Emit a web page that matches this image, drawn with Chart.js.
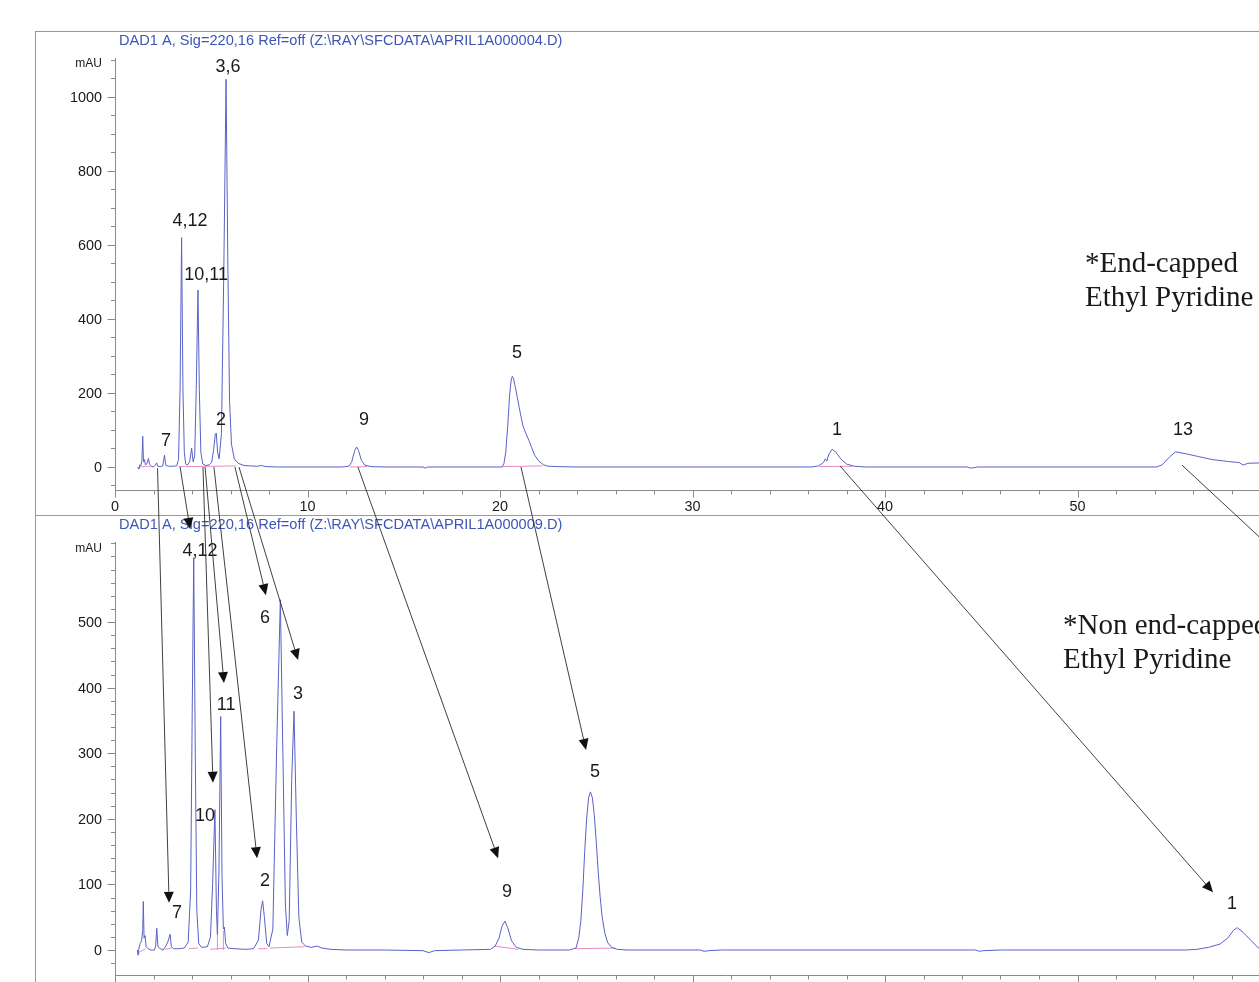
<!DOCTYPE html>
<html>
<head>
<meta charset="utf-8">
<title>SFC chromatograms - Ethyl Pyridine columns</title>
<script src="https://cdn.jsdelivr.net/npm/chart.js@4.4.1/dist/chart.umd.min.js"></script>
<style>
  html, body { margin: 0; padding: 0; background: #fff; overflow: hidden; }
  #page { position: relative; width: 1259px; height: 982px; overflow: hidden; }
  .frame { position: absolute; left: 35px; top: 31px; width: 1400px; height: 1000px;
           border-top: 1px solid #9a9a9a; border-left: 1px solid #9a9a9a; }
  .sep { position: absolute; left: 35px; top: 515px; width: 1400px; height: 0; border-top: 1px solid #9a9a9a; }
  #topChart { position: absolute; left: 0; top: 0; }
  #bottomChart { position: absolute; left: 0; top: 515px; }
  #arrows { position: absolute; left: 0; top: 0; pointer-events: none; }
  .note { position: absolute; font-family: "Liberation Serif", "Times New Roman", serif; font-size: 29px;
          line-height: 34px; color: #1a1a1a; white-space: nowrap; }
</style>
</head>
<body>
<div id="page">
  <div class="frame"></div>
  <div class="sep"></div>
  <canvas id="topChart" width="1340" height="515"></canvas>
  <canvas id="bottomChart" width="1340" height="500"></canvas>
  <canvas id="arrows" width="1259" height="982"></canvas>
  <div class="note" style="left:1085px; top:245px;">*End-capped<br>Ethyl Pyridine</div>
  <div class="note" style="left:1063px; top:607px;">*Non end-capped<br>Ethyl Pyridine</div>
</div>
<script>
// ---- Signal traces: [retention time (min), absorbance (mAU)] ----
const endCappedTrace = [
  [1.18,0],[1.24,-6],[1.29,6],[1.34,3],[1.40,18],[1.44,83],[1.48,14],[1.53,20],[1.58,6],[1.66,9],
  [1.74,23],[1.80,6],[1.88,2],[1.98,0],[2.08,4],[2.16,11],[2.22,2],[2.35,1],[2.48,3],[2.57,32],
  [2.64,4],[2.80,2],[3.00,2],[3.20,3],[3.30,20],[3.38,210],[3.46,620],[3.53,210],[3.60,40],[3.67,8],
  [3.76,5],[3.88,14],[3.98,51],[4.06,14],[4.14,30],[4.22,210],[4.31,478],[4.38,210],[4.46,40],[4.56,8],
  [4.72,4],[4.90,6],[5.02,12],[5.12,45],[5.21,88],[5.26,92],[5.33,40],[5.41,22],[5.53,90],[5.65,520],
  [5.77,1048],[5.86,560],[5.95,180],[6.05,62],[6.20,22],[6.40,10],[6.70,4],[7.00,3],[7.40,2],[7.60,4],
  [7.85,1],[8.50,0],[10.5,0],[11.8,0],[12.15,2],[12.30,14],[12.45,44],[12.55,54],[12.65,45],[12.80,18],
  [12.98,5],[13.30,1],[14.0,0],[16.0,0],[16.1,-3],[16.25,0],[18.0,0],[20.05,0],[20.12,1],[20.20,8],
  [20.30,40],[20.40,110],[20.50,195],[20.58,235],[20.64,245],[20.70,240],[20.80,215],[20.90,188],[21.00,160],[21.10,134],
  [21.20,110],[21.35,90],[21.50,72],[21.65,52],[21.80,32],[22.00,17],[22.25,6],[22.50,2],[23.0,1],[24.0,0],
  [30.0,0],[36.2,0],[36.55,3],[36.80,12],[36.90,22],[36.98,16],[37.08,34],[37.25,48],[37.45,40],[37.70,22],
  [38.00,8],[38.40,2],[39.0,0],[44.3,0],[44.42,-3],[44.6,-2],[44.8,0],[54.1,0],[54.4,6],[54.8,28],
  [55.1,41],[55.6,36],[56.3,28],[57.0,20],[57.8,15],[58.4,12],[58.6,5],[58.85,10],[59.5,11],[60.3,9],
  [61.0,8]
];

const nonEndCappedTrace = [
  [1.16,0],[1.20,-8],[1.25,4],[1.31,10],[1.38,14],[1.44,30],[1.47,74],[1.51,18],[1.56,22],[1.62,5],
  [1.72,2],[1.85,0],[2.05,0],[2.11,6],[2.17,33],[2.23,5],[2.35,2],[2.50,0],[2.64,6],[2.74,12],
  [2.86,24],[2.93,5],[3.05,2],[3.30,2],[3.60,3],[3.80,12],[3.93,90],[4.01,360],[4.09,598],[4.17,300],
  [4.25,60],[4.35,10],[4.50,4],[4.80,5],[4.96,20],[5.07,100],[5.19,214],[5.27,60],[5.32,24],[5.40,120],
  [5.49,356],[5.56,110],[5.63,32],[5.68,35],[5.75,10],[5.86,3],[6.20,2],[6.80,1],[7.20,2],[7.45,15],
  [7.58,60],[7.67,75],[7.76,50],[7.88,10],[8.00,5],[8.20,32],[8.40,310],[8.59,534],[8.72,300],[8.85,70],
  [8.95,22],[9.05,45],[9.18,260],[9.30,364],[9.42,200],[9.55,50],[9.70,12],[9.90,6],[10.20,4],[10.50,6],
  [10.75,3],[11.2,1],[12.0,0],[14.0,0],[16.0,-1],[16.3,-4],[16.6,-1],[18.0,0],[19.5,1],[19.75,6],
  [19.95,18],[20.10,36],[20.26,44],[20.40,34],[20.60,14],[20.85,4],[21.2,1],[22.0,0],[23.6,0],[23.95,3],
  [24.10,20],[24.20,45],[24.30,90],[24.40,150],[24.50,200],[24.60,232],[24.70,241],[24.80,232],[24.90,205],[25.00,165],
  [25.10,120],[25.20,82],[25.30,52],[25.45,25],[25.60,11],[25.80,4],[26.1,1],[26.6,0],[30.4,0],[30.6,-2],
  [30.85,-1],[31.5,0],[44.7,0],[44.9,-2],[45.1,-1],[46.0,0],[55.6,0],[56.2,1],[56.8,4],[57.4,9],
  [57.8,18],[58.1,30],[58.3,34],[58.6,27],[59.0,15],[59.4,3],[59.9,-1],[61.0,0]
];

// ---- Integration baselines (each inner list is one drawn segment) ----
const endCappedBaselines = [
  [[1.22,-1],[1.60,2],[1.85,0]],
  [[3.30,1],[3.66,2]],
  [[3.68,1],[6.30,3]],
  [[12.20,0],[13.10,1]],
  [[20.10,1],[22.20,3]],
  [[36.60,1],[38.30,2]]
];
const nonEndCappedBaselines = [
  [[1.22,-4],[1.60,2]],
  [[2.60,1],[2.95,3]],
  [[3.85,2],[4.30,3]],
  [[4.95,1],[5.75,3]],
  [[5.32,0],[5.32,32]],
  [[5.63,0],[5.63,30]],
  [[7.45,2],[7.90,2]],
  [[8.05,3],[9.85,5]],
  [[19.70,6],[20.95,1]],
  [[23.90,2],[26.00,3]]
];

// ---- Peak identifications: name, label time (min), label height (mAU) ----
const endCappedPeakNames = ['3,6', '4,12', '10,11', '2', '7', '9', '5', '1', '13'];
const endCappedPeakT     = [5.87, 3.90, 4.73, 5.51, 2.65, 12.93, 20.88, 37.51, 55.48];
const endCappedPeakV     = [1086, 668, 522, 132, 73, 132, 311, 103, 103];

const nonEndCappedPeakNames = ['4,12', '6', '11', '3', '10', '2', '7', '9', '5', '1'];
const nonEndCappedPeakT     = [4.42, 7.79, 5.77, 9.51, 4.68, 7.79, 3.22, 20.36, 24.94, 58.03];
const nonEndCappedPeakV     = [611, 509, 375, 393, 207, 107, 58, 91, 274, 73];

// ---- Elution-order arrows: peak on the end-capped run -> same compound on the non end-capped run ----
const arrowFrom = [[2.21,-3],[3.38,0],[4.57,0],[4.68,0],[5.14,0],[6.23,0],[6.44,0],[12.62,0],[21.09,0],[37.66,3],[55.43,5]];
const arrowTo   = [[2.81,72],[3.90,642],[5.09,255],[5.66,407],[7.38,140],[7.84,541],[9.51,442],[19.90,140],[24.47,305],[57.04,88],[63.1,530]];

// ---- Axis ticks and labels ----
const timeLabelValues = [0, 10, 20, 30, 40, 50, 60];
const timeLabelText   = ['0', '10', '20', '30', '40', '50', 'min'];
const endCappedYLabels    = [0, 200, 400, 600, 800, 1000];
const nonEndCappedYLabels = [0, 100, 200, 300, 400, 500];

const titleEndCapped    = 'DAD1 A, Sig=220,16 Ref=off (Z:\\RAY\\SFCDATA\\APRIL1A000004.D)';
const titleNonEndCapped = 'DAD1 A, Sig=220,16 Ref=off (Z:\\RAY\\SFCDATA\\APRIL1A000009.D)';

const FONT = "'Liberation Sans', Arial, Helvetica, sans-serif";
const TRACE_COLOR = '#5a62c6';
const BASELINE_COLOR = '#e88cc2';

function steps(from, to, step) {
  const out = [];
  for (let v = from; v <= to + 1e-9; v += step) out.push(Math.round(v * 1000) / 1000);
  return out;
}

function toPoints(pairs) { return pairs.map(([x, y]) => ({ x, y })); }
function segmentsToPoints(segs) {
  const out = [];
  segs.forEach((s, i) => {
    if (i > 0) out.push({ x: s[0][0], y: null });
    s.forEach(([x, y]) => out.push({ x, y }));
  });
  return out;
}

// Axis lines, minor/major tick marks, unit, signal title and peak names
function decorPlugin(spec) {
  return {
    id: 'chromDecor',
    afterDraw(chart) {
      const { ctx, chartArea: a, scales: { x, y } } = chart;
      ctx.save();
      ctx.strokeStyle = '#8a8a8a';
      ctx.lineWidth = 1;
      const lx = Math.round(a.left) + 0.5;
      const by = Math.round(a.bottom) + 0.5;
      ctx.beginPath();
      ctx.moveTo(lx, Math.round(a.top));
      ctx.lineTo(lx, by);
      ctx.lineTo(chart.width, by);
      spec.yTicks.forEach(v => {
        const py = Math.round(y.getPixelForValue(v)) + 0.5;
        const len = spec.yMajor.includes(v) ? 8 : 4.5;
        ctx.moveTo(lx - len, py); ctx.lineTo(lx, py);
      });
      spec.xTicks.forEach(v => {
        const px = Math.round(x.getPixelForValue(v)) + 0.5;
        const len = spec.xMajor.includes(v) ? 7 : 4;
        ctx.moveTo(px, by); ctx.lineTo(px, by + len);
      });
      ctx.stroke();

      ctx.fillStyle = '#1a1a1a';
      ctx.font = `12px ${FONT}`;
      ctx.textAlign = 'right';
      ctx.textBaseline = 'middle';
      ctx.fillText('mAU', a.left - 13, a.top + spec.unitDy);

      ctx.fillStyle = '#3d56b6';
      ctx.font = `14.6px ${FONT}`;
      ctx.textAlign = 'left';
      ctx.fillText(spec.title, a.left + 4, a.top + spec.titleDy);

      ctx.fillStyle = '#1a1a1a';
      ctx.font = `18px ${FONT}`;
      ctx.textAlign = 'center';
      spec.names.forEach((n, i) => {
        ctx.fillText(n, x.getPixelForValue(spec.t[i]), y.getPixelForValue(spec.v[i]) + 1.5);
      });
      ctx.restore();
    }
  };
}

function makeChromatogram(canvasId, cfg) {
  return new Chart(document.getElementById(canvasId), {
    type: 'line',
    data: {
      datasets: [
        { data: toPoints(cfg.trace), borderColor: TRACE_COLOR, borderWidth: 1, pointRadius: 0, tension: 0, fill: false, order: 1 },
        { data: segmentsToPoints(cfg.baselines), borderColor: BASELINE_COLOR, borderWidth: 1, pointRadius: 0, tension: 0, fill: false, spanGaps: false, order: 2 }
      ]
    },
    options: {
      responsive: false,
      animation: false,
      devicePixelRatio: 1,
      events: [],
      layout: { padding: { left: 0, top: cfg.padTop, right: 50.75, bottom: 0 } },
      plugins: { legend: { display: false }, tooltip: { enabled: false }, title: { display: false } },
      scales: {
        x: {
          type: 'linear', min: 0, max: 61,
          afterBuildTicks: s => { s.ticks = timeLabelValues.map(v => ({ value: v })); },
          afterFit: s => { s.height = cfg.xAxisHeight; },
          grid: { display: false, drawTicks: false },
          border: { display: false },
          ticks: {
            autoSkip: false, maxRotation: 0, padding: 8, color: '#1a1a1a',
            font: { family: FONT, size: 14.4 },
            callback: v => timeLabelText[timeLabelValues.indexOf(v)]
          }
        },
        y: {
          type: 'linear', min: cfg.yMin, max: cfg.yMax,
          afterBuildTicks: s => { s.ticks = cfg.yLabels.map(v => ({ value: v })); },
          afterFit: s => { s.width = 115; },
          grid: { display: false, drawTicks: false },
          border: { display: false },
          ticks: {
            padding: 13, labelOffset: 1, color: '#1a1a1a',
            font: { family: FONT, size: 14.4 },
            callback: v => String(v)
          }
        }
      }
    },
    plugins: [decorPlugin({
      yTicks: cfg.yTicks, yMajor: cfg.yLabels,
      xTicks: steps(0, 60, 2), xMajor: timeLabelValues,
      unitDy: cfg.unitDy, title: cfg.title, titleDy: cfg.titleDy,
      names: cfg.names, t: cfg.peakT, v: cfg.peakV
    })]
  });
}

const topChart = makeChromatogram('topChart', {
  trace: endCappedTrace, baselines: endCappedBaselines,
  yMin: -62.2, yMax: 1105.4, yLabels: endCappedYLabels, yTicks: steps(-50, 1100, 50),
  padTop: 58, xAxisHeight: 25, unitDy: 6, title: titleEndCapped, titleDy: -17,
  names: endCappedPeakNames, peakT: endCappedPeakT, peakV: endCappedPeakV
});

const bottomChart = makeChromatogram('bottomChart', {
  trace: nonEndCappedTrace, baselines: nonEndCappedBaselines,
  yMin: -38.1, yMax: 622, yLabels: nonEndCappedYLabels, yTicks: steps(-20, 620, 20),
  padTop: 27, xAxisHeight: 40, unitDy: 7, title: titleNonEndCapped, titleDy: -17,
  names: nonEndCappedPeakNames, peakT: nonEndCappedPeakT, peakV: nonEndCappedPeakV
});

// Arrows linking each compound between the two runs, placed through both charts' scales
function drawArrows() {
  const cv = document.getElementById('arrows');
  const ctx = cv.getContext('2d');
  const tx = topChart.scales.x, ty = topChart.scales.y;
  const bx = bottomChart.scales.x, byScale = bottomChart.scales.y;
  const offTop = document.getElementById('topChart').offsetTop;
  const offBottom = document.getElementById('bottomChart').offsetTop;
  ctx.strokeStyle = '#2a2a2a';
  ctx.fillStyle = '#111';
  ctx.lineWidth = 0.9;
  const L = 11, W = 5;
  arrowFrom.forEach((f, i) => {
    const to = arrowTo[i];
    const x1 = tx.getPixelForValue(f[0]), y1 = offTop + ty.getPixelForValue(f[1]);
    const x2 = bx.getPixelForValue(to[0]), y2 = offBottom + byScale.getPixelForValue(to[1]);
    const ang = Math.atan2(y2 - y1, x2 - x1);
    const hx = x2 - L * Math.cos(ang), hy = y2 - L * Math.sin(ang);
    ctx.beginPath();
    ctx.moveTo(x1, y1);
    ctx.lineTo(hx, hy);
    ctx.stroke();
    ctx.beginPath();
    ctx.moveTo(x2, y2);
    ctx.lineTo(hx + W * Math.sin(ang), hy - W * Math.cos(ang));
    ctx.lineTo(hx - W * Math.sin(ang), hy + W * Math.cos(ang));
    ctx.closePath();
    ctx.fill();
  });
}
drawArrows();
</script>
</body>
</html>
